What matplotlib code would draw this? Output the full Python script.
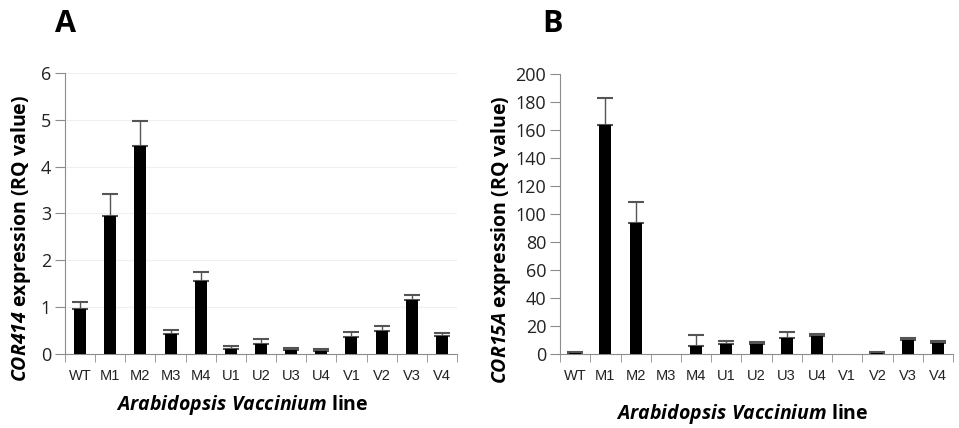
import matplotlib
matplotlib.use("Agg")
import matplotlib.pyplot as plt
import numpy as np

lines = ["WT", "M1", "M2", "M3", "M4", "U1", "U2", "U3", "U4", "V1", "V2", "V3", "V4"]

# COR414 (panel A)
cor414 = [0.97, 2.95, 4.44, 0.43, 1.55, 0.11, 0.21, 0.09, 0.07, 0.37, 0.49, 1.16, 0.39]
cor414_err = [0.15, 0.47, 0.54, 0.08, 0.20, 0.06, 0.10, 0.04, 0.04, 0.10, 0.11, 0.10, 0.06]

# COR15A (panel B)
cor15a = [1.0, 163.6, 93.3, 0, 5.9, 7.4, 7.4, 11.2, 13.1, 0, 0.8, 10.0, 7.9]
cor15a_err = [0.5, 19.4, 15.0, 0, 7.7, 1.6, 1.2, 4.5, 1.2, 0, 0.3, 1.5, 1.3]

plt.rcParams['mathtext.fontset'] = 'custom'
plt.rcParams['mathtext.it'] = 'Open Sans:italic:bold'
plt.rcParams['mathtext.rm'] = 'Open Sans:italic:bold'
plt.rcParams['mathtext.bf'] = 'Open Sans:italic:bold'

fig = plt.figure(figsize=(9.59, 4.28), dpi=100)
axA = fig.add_axes([0.0678, 0.1729, 0.4087, 0.6571])
axB = fig.add_axes([0.584, 0.1729, 0.4097, 0.6541])

x = np.arange(len(lines))
axis_grey = '#8c8c8c'


def style(ax, vals, errs, ymax, step, gene, grid, ylab_x, xlab_xy):
    vals = np.array(vals)
    errs = np.array(errs)
    ax.bar(x, vals, width=0.4, color='black', zorder=3)
    has = errs > 0
    ax.errorbar(x[has], vals[has], yerr=[np.zeros(has.sum()), errs[has]], fmt='none',
                ecolor='#555555', elinewidth=1, capsize=5.5, capthick=1.5, zorder=2)
    ax.set_xlim(-0.5, len(lines) - 0.5)
    ax.set_ylim(0, ymax)
    ax.set_yticks(np.arange(0, ymax + step / 2, step))
    ax.set_xticks(x)
    ax.set_xticklabels(lines, fontsize=10.5, family='Liberation Sans', color='#222222')
    ax.set_xticks(np.arange(-0.5, len(lines), 1), minor=True)
    ax.tick_params(axis='x', which='major', length=0, pad=11)
    ax.tick_params(axis='x', which='minor', length=6, color=axis_grey, direction='out')
    ax.tick_params(axis='y', length=7, color=axis_grey, direction='out', labelsize=13, pad=3)
    for lab in ax.get_yticklabels():
        lab.set_family('Open Sans')
        lab.set_color('#222222')
    for s in ['top', 'right']:
        ax.spines[s].set_visible(False)
    ax.spines['left'].set_color(axis_grey)
    ax.spines['bottom'].set_color(axis_grey)
    if grid:
        ax.yaxis.grid(True, color='#f0f0f0', linewidth=0.8, zorder=0)
        ax.set_axisbelow(True)
    ax.set_ylabel(r'$\mathit{' + gene + r'}$ expression (RQ value)', fontsize=14,
                  family='Open Sans', fontweight='bold')
    ax.yaxis.set_label_coords(ylab_x, 0.41)
    ax.set_xlabel(r'$\mathit{Arabidopsis\ Vaccinium}$ line', fontsize=14,
                  family='Open Sans', fontweight='bold')
    ax.xaxis.set_label_coords(xlab_xy[0], xlab_xy[1])


style(axA, cor414, cor414_err, 6, 1, 'COR414', True, -0.082, (0.452, -0.138))
style(axB, cor15a, cor15a_err, 200, 20, 'COR15A', False, -0.12, (0.463, -0.172))

fig.text(0.057, 0.98, 'A', fontsize=22, fontweight='bold', family='Open Sans', va='top')
fig.text(0.565, 0.98, 'B', fontsize=22, fontweight='bold', family='Open Sans', va='top')

fig.savefig('out.png', dpi=100)
